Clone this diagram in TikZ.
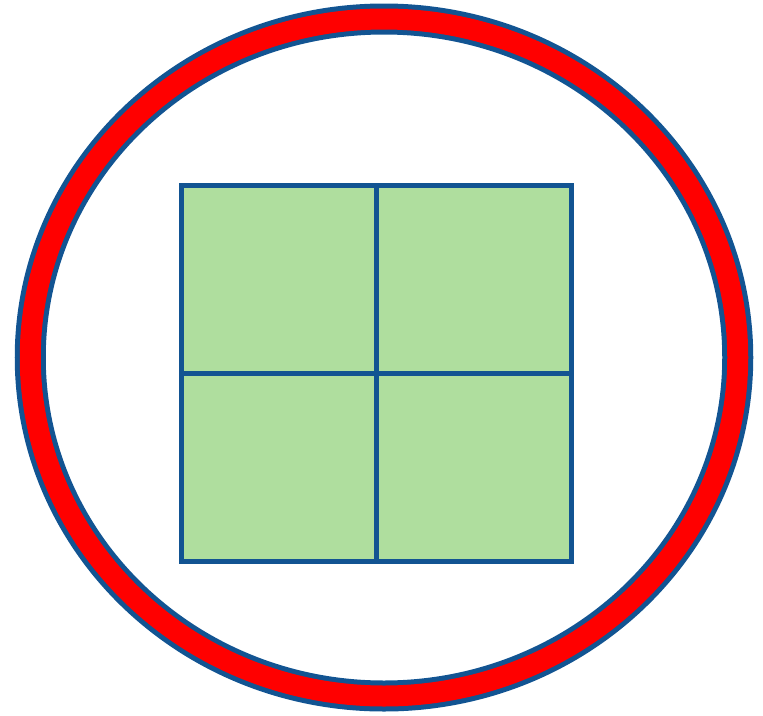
\documentclass[tikz,border=0pt]{standalone}
\definecolor{ringblue}{RGB}{18,84,146}
\definecolor{ringred}{RGB}{255,0,0}
\definecolor{cellgreen}{RGB}{175,222,158}
\usepackage{tikz}
\usetikzlibrary{positioning}
\tikzset{
  ring/.style={draw=ringblue, line width=31pt},
  ringcore/.style={draw=ringred, line width=21pt},
  cell/.style={draw=ringblue, fill=cellgreen, line width=5pt, line join=miter,
               minimum width=195pt, minimum height=188pt,
               inner sep=0pt, outer sep=0pt}
}
\begin{document}
\begin{tikzpicture}[x=1pt, y=-1pt, node distance=0pt]
  \useasboundingbox (0,0) rectangle (763,715);
  \coordinate (mid) at (384,357.5);
  \draw[ring] (mid) ellipse [x radius=353.75pt, y radius=338.5pt];
  \draw[ringcore] (mid) ellipse [x radius=353.75pt, y radius=338.5pt];
  \node[cell] (tl) at (278.75,279.25) {};
  \node[cell, right=of tl] (tr) {};
  \node[cell, below=of tl] (bl) {};
  \node[cell, right=of bl] (br) {};
\end{tikzpicture}
\end{document}
